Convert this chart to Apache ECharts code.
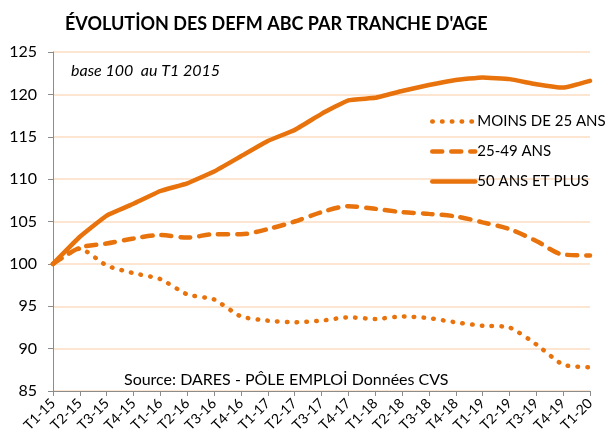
<!DOCTYPE html>
<html>
<head>
<meta charset="utf-8">
<script src="https://cdn.jsdelivr.net/npm/echarts@6/dist/echarts.min.js"></script>
<style>
html,body{margin:0;padding:0;background:#fff;}
#c{width:608px;height:438px;}
</style>
</head>
<body>
<div id="c"></div>
<script>
const categories = ['T1-15','T2-15','T3-15','T4-15','T1-16','T2-16','T3-16','T4-16','T1-17','T2-17','T3-17','T4-17','T1-18','T2-18','T3-18','T4-18','T1-19','T2-19','T3-19','T4-19','T1-20'];
const moins25 = [100,101.8,99.8,98.9,98.2,96.4,95.8,93.8,93.3,93.1,93.3,93.7,93.5,93.8,93.6,93.1,92.7,92.5,90.5,88.1,87.8];
const ans25_49 = [100,101.9,102.4,103.0,103.4,103.1,103.5,103.5,104.1,105.0,106.1,106.8,106.5,106.1,105.9,105.6,104.9,104.1,102.7,101.1,101.0];
const ans50plus = [100,103.2,105.7,107.1,108.6,109.5,110.9,112.7,114.5,115.8,117.7,119.3,119.6,120.4,121.1,121.7,122.0,121.8,121.2,120.8,121.6];
const seriesNames = ['MOINS DE 25 ANS','25-49 ANS','50 ANS ET PLUS'];
const yTicks = {min:85, max:125, interval:5};

const FONT = 'Lato, "Open Sans", sans-serif';
const ORANGE = '#E8720C';
const dotted = {color:ORANGE, width:4.5, type:[0.5,9.3], cap:'round'};
const dashed = {color:ORANGE, width:4.5, type:[10,9], cap:'round'};
const solid = {color:ORANGE, width:4.5, type:'solid', cap:'round'};
const styles = [dotted, dashed, solid];
const chart = echarts.init(document.getElementById('c'), null, {renderer:'canvas'});
chart.setOption({
  animation:false,
  backgroundColor:'#fff',
  title:[
    {text:"ÉVOLUTİON DES DEFM ABC PAR TRANCHE D'AGE", left:60, top:10,
     textStyle:{fontFamily:FONT, fontWeight:'bold', fontSize:18, color:'#000'}},
    {text:'base 100  au T1 2015', left:66, top:58,
     textStyle:{fontFamily:FONT, fontStyle:'italic', fontWeight:'normal', fontSize:16, color:'#000'}},
    {text:'Source: DARES - PÔLE EMPLOİ Données CVS', left:119, top:367,
     textStyle:{fontFamily:FONT, fontWeight:'normal', fontSize:16, color:'#000'}}
  ],
  legend:{
    orient:'vertical', left:425, top:109, itemWidth:43, itemHeight:10, itemGap:15,
    textStyle:{fontFamily:FONT, fontSize:15, color:'#000', padding:[0,0,0,-3]},
    data:seriesNames.map((n,i)=>({name:n, itemStyle:{opacity:0}, lineStyle:Object.assign({}, styles[i])}))
  },
  grid:{left:53, right:18, top:52, bottom:47, containLabel:false},
  xAxis:{
    type:'category', data:categories, boundaryGap:false,
    axisLine:{lineStyle:{color:'#8c8c8c', width:1}},
    axisTick:{show:true, alignWithLabel:true, length:5, lineStyle:{color:'#8c8c8c'}},
    axisLabel:{rotate:45, interval:0, margin:10, fontFamily:FONT, fontSize:14, color:'#000'},
    splitLine:{show:false}
  },
  yAxis:{
    type:'value', min:yTicks.min, max:yTicks.max, interval:yTicks.interval,
    axisLine:{show:true, lineStyle:{color:'#8c8c8c', width:1}},
    axisTick:{show:true, length:5, lineStyle:{color:'#8c8c8c'}},
    axisLabel:{margin:16, fontFamily:FONT, fontSize:16, color:'#000'},
    splitLine:{show:true, lineStyle:{color:'#FBDCC2', width:1.5}}
  },
  series:[
    {name:seriesNames[0], type:'line', data:moins25, symbol:'none', smooth:0.2,
     lineStyle:dotted, itemStyle:{color:ORANGE}, z:3},
    {name:seriesNames[1], type:'line', data:ans25_49, symbol:'none', smooth:0.3,
     lineStyle:dashed, itemStyle:{color:ORANGE}, z:4},
    {name:seriesNames[2], type:'line', data:ans50plus, symbol:'none', smooth:0.1,
     lineStyle:solid, itemStyle:{color:ORANGE}, z:5}
  ]
});
</script>
</body>
</html>
